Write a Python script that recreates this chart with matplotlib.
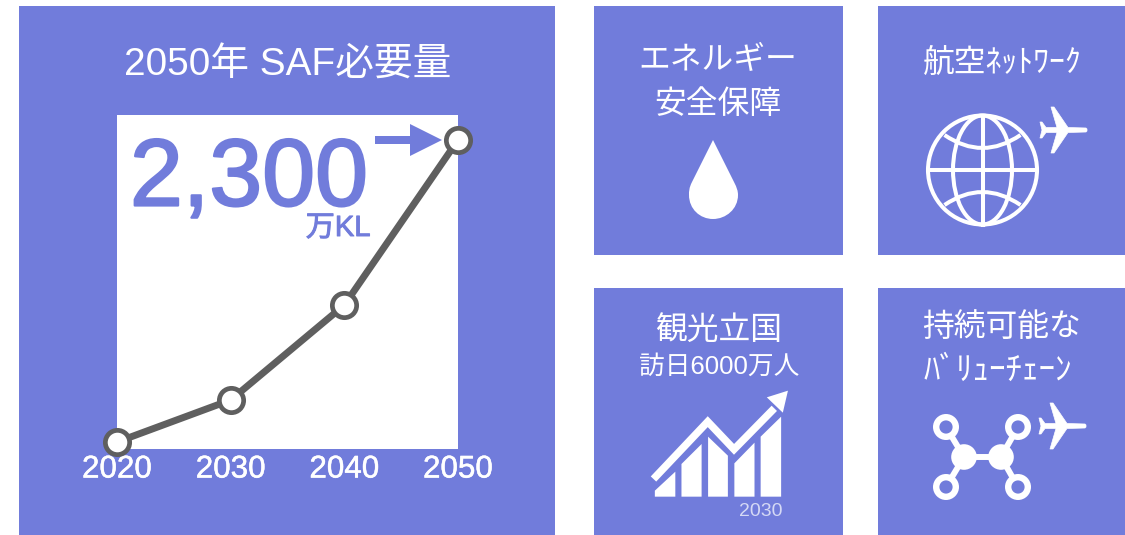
import matplotlib
matplotlib.use("Agg")
import matplotlib.pyplot as plt
import matplotlib.patheffects as pe
from matplotlib.patches import Rectangle, Circle, Ellipse, Polygon, PathPatch
from matplotlib.path import Path

plt.rcParams['font.family'] = ['Liberation Sans', 'Noto Sans CJK JP', 'DejaVu Sans']

# SAF demand outlook
years = [2020, 2030, 2040, 2050]
saf_volume = [0, 320, 1043, 2300]
year_labels = ['2020', '2030', '2040', '2050']

TILE = '#717CDB'
LINE = '#5F5F5F'
W, H = 1125, 535

fig = plt.figure(figsize=(W / 100, H / 100), dpi=100, facecolor='white')


def pixel_axes(zorder):
    ax = fig.add_axes([0, 0, 1, 1], zorder=zorder)
    ax.set_xlim(0, W)
    ax.set_ylim(H, 0)
    ax.axis('off')
    ax.patch.set_alpha(0)
    return ax


back = pixel_axes(0)
front = pixel_axes(2)

# Tiles
for x0, y0, x1, y1 in [(19, 6, 555, 535), (594, 6, 843, 255), (878, 6, 1125, 255),
                       (594, 288, 843, 535), (878, 288, 1125, 535)]:
    back.add_patch(Rectangle((x0, y0), x1 - x0, y1 - y0, fc=TILE, ec='none'))

# Line chart on the white panel
px0, px1, py0, py1 = 117, 458, 115, 449
chart = fig.add_axes([px0 / W, 1 - py1 / H, (px1 - px0) / W, (py1 - py0) / H], zorder=1)
chart.set_facecolor('white')
chart.set_xlim(2020, 2050)
chart.set_ylim(-53, 2490)
for s in chart.spines.values():
    s.set_visible(False)
chart.plot(years, saf_volume, color=LINE, lw=5, marker='o', ms=17.5, mfc='white',
           mec=LINE, mew=3.4, clip_on=False, zorder=5)
chart.set_yticks([])
chart.set_xticks(years, year_labels)
chart.tick_params(axis='x', length=0, pad=4, labelsize=22.6, labelcolor='white')
for t in chart.get_xticklabels():
    t.set_path_effects([pe.withStroke(linewidth=0.35, foreground='white')])


def label(x, y, s, size, color='white', ax=back, stroke=0, **kw):
    t = ax.text(x, y, s, fontsize=size, color=color, ha='center', va='center', **kw)
    if stroke:
        t.set_path_effects([pe.withStroke(linewidth=stroke, foreground=color)])


label(288, 66, '2050年 SAF必要量', 27.9)
label(718, 61, 'エネルギー', 22.9)
label(718, 105, '安全保障', 22.9)
label(1002, 64, '航空ﾈｯﾄﾜｰｸ', 22.9)
label(719, 331, '観光立国', 22.9)
label(719, 367, '訪日6000万人', 18.5)
label(1002, 328, '持続可能な', 22.9)
label(998, 371, 'ﾊﾞﾘｭｰﾁｪｰﾝ', 23.8)
label(761, 511, '2030', 14, color='#D5D9F5')
label(249, 181, '2,300', 68.5, color=TILE, ax=front, stroke=1.6)
label(338, 228, '万KL', 21, color=TILE, ax=front, stroke=0.7)

# Arrow towards the 2050 point
front.add_patch(Polygon([(375, 136), (410, 136), (410, 124), (442, 140), (410, 156),
                         (410, 144), (375, 144)], fc=TILE, ec='none'))


def grid_xy(pts, ox, oy, kx=2.93, ky=3.0):
    """Convert icon-sheet units to figure pixels."""
    return [(ox + px / kx, oy + py / ky) for px, py in pts]


def plane(ax, x, y):
    top = [(47, -1), (46, -2), (28, -2.5), (14, -23), (11, -23), (17, -2.5),
           (6, -2.5), (2, -8), (0, -8), (2, 0)]
    bottom = [(px, -py) for px, py in reversed(top[:-1])]
    ax.add_patch(Polygon([(x + a, y + b) for a, b in top + bottom],
                         fc='white', ec='white', lw=0.5, joinstyle='round'))


# Fuel drop
drop = Path([(713, 140), (692, 182), (689, 188), (689, 191), (689, 195),
             (689, 209), (700, 219), (713, 219),
             (726, 219), (738, 209), (738, 195),
             (738, 191), (737, 188), (734, 182), (713, 140), (713, 140)],
            [Path.MOVETO, Path.LINETO, Path.CURVE4, Path.CURVE4, Path.CURVE4,
             Path.CURVE4, Path.CURVE4, Path.CURVE4,
             Path.CURVE4, Path.CURVE4, Path.CURVE4,
             Path.CURVE4, Path.CURVE4, Path.CURVE4, Path.LINETO, Path.CLOSEPOLY])
back.add_patch(PathPatch(drop, fc='white', ec='none'))

# Globe
gx, gy, gr = 982.5, 170, 54.5
style = dict(fc='none', ec='white', lw=2.9)
back.add_patch(Circle((gx, gy), gr, **style))
back.add_patch(Ellipse((gx, gy), 59, 2 * gr, **style))
back.plot([gx, gx], [gy - gr, gy + gr], color='white', lw=2.9)
back.plot([gx - gr, gx + gr], [gy, gy], color='white', lw=2.9)
for sign in (-1, 1):
    arc = Path([(gx - 38, gy + sign * 35), (gx, gy + sign * 9), (gx + 38, gy + sign * 35)],
               [Path.MOVETO, Path.CURVE3, Path.CURVE3])
    back.add_patch(PathPatch(arc, **style))
plane(back, 1040, 130)

# Growth chart
ox, oy = 590, 280
for pts in [[(190, 632), (250, 575), (250, 650), (190, 650)],
            [(268, 552), (327, 492), (327, 650), (268, 650)],
            [(346, 470), (404, 527), (404, 650), (346, 650)],
            [(423, 550), (482, 488), (482, 650), (423, 650)],
            [(500, 470), (560, 410), (560, 650), (500, 650)]]:
    back.add_patch(Polygon(grid_xy(pts, ox, oy), fc='white', ec='none'))
zig = grid_xy([(186, 597), (345, 425), (422, 508), (540, 385)], ox, oy)
back.plot(*zip(*zig), color='white', lw=5.4, solid_joinstyle='miter', solid_capstyle='butt')
back.add_patch(Polygon(grid_xy([(580, 332), (518, 352), (565, 398)], ox, oy), fc='white', ec='none'))

# Value-chain network
hubs = [(964, 457), (1001, 457)]
nodes = [(946, 427), (946, 487), (1018, 427), (1018, 487)]
links = [(hubs[0], hubs[1]), (hubs[0], nodes[0]), (hubs[0], nodes[1]),
         (hubs[1], nodes[2]), (hubs[1], nodes[3])]
for a, b in links:
    back.plot([a[0], b[0]], [a[1], b[1]], color='white', lw=4.3)
for c in hubs:
    back.add_patch(Circle(c, 12.8, fc='white', ec='none', zorder=4))
for c in nodes:
    back.add_patch(Circle(c, 9.8, fc=TILE, ec='white', lw=4.6, zorder=4))
plane(back, 1039, 426)

fig.savefig('out.png', dpi=100)
